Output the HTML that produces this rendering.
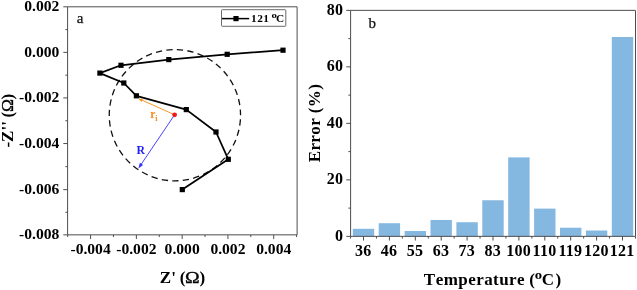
<!DOCTYPE html>
<html lang="en"><head><meta charset="utf-8"><title>Figure</title>
<style>
html,body{margin:0;padding:0;background:#fff;}
svg{display:block;}
text{font-family:"Liberation Serif","DejaVu Serif",serif;}
.b{font-weight:bold;}
.tk{font-weight:bold;font-size:15.6px;fill:#000;}
.tk2{font-weight:bold;font-size:16px;fill:#000;letter-spacing:0.25px;}
.tt{font-weight:bold;font-size:17px;fill:#000;}
</style></head>
<body>
<svg width="637" height="290" viewBox="0 0 637 290">
<rect width="637" height="290" fill="#fff"/>
<g id="panel-a">
<path d="M67.6 6.8H297.1V234.85" fill="none" stroke="#4d4d4d" stroke-width="1"/>
<path d="M67.6 6.8V234.85H297.1" fill="none" stroke="#4d4d4d" stroke-width="1"/>
<path d="M67.6 6.80h-4.3M67.6 29.58h-2.2M67.6 52.36h-4.3M67.6 75.15h-2.2M67.6 97.93h-4.3M67.6 120.74h-2.2M67.6 143.55h-4.3M67.6 166.60h-2.2M67.6 189.65h-4.3M67.6 212.25h-2.2M67.6 234.85h-4.3M90.59 234.85v4.2M136.37 234.85v4.2M182.15 234.85v4.2M227.93 234.85v4.2M273.71 234.85v4.2M67.70 234.85v2.2M113.48 234.85v2.2M159.26 234.85v2.2M205.04 234.85v2.2M250.82 234.85v2.2M296.60 234.85v2.2" fill="none" stroke="#4d4d4d" stroke-width="1"/>
<text class="tk" x="59.4" y="11.20" text-anchor="end">0.002</text>
<text class="tk" x="59.4" y="56.76" text-anchor="end">0.000</text>
<text class="tk" x="59.4" y="102.33" text-anchor="end">-0.002</text>
<text class="tk" x="59.4" y="147.95" text-anchor="end">-0.004</text>
<text class="tk" x="59.4" y="194.05" text-anchor="end">-0.006</text>
<text class="tk" x="59.4" y="239.25" text-anchor="end">-0.008</text>
<text class="tk" x="90.59" y="254.1" text-anchor="middle">-0.004</text>
<text class="tk" x="136.37" y="254.1" text-anchor="middle">-0.002</text>
<text class="tk" x="182.15" y="254.1" text-anchor="middle">0.000</text>
<text class="tk" x="227.93" y="254.1" text-anchor="middle">0.002</text>
<text class="tk" x="273.71" y="254.1" text-anchor="middle">0.004</text>
<text class="tt" x="159.8" y="282.8">Z' <tspan x="179.85">(</tspan><tspan x="184.9" style="font-weight:normal" stroke="#000" stroke-width="0.35" textLength="14.66" lengthAdjust="spacingAndGlyphs">Ω</tspan><tspan x="199.45">)</tspan></text>
<text class="tt" transform="translate(13.1 0) rotate(-90)" x="-147.6" y="0">-Z'' <tspan x="-117.4">(</tspan><tspan x="-111.9" style="font-weight:normal" stroke="#000" stroke-width="0.35" textLength="13.02" lengthAdjust="spacingAndGlyphs">Ω</tspan><tspan x="-99.6">)</tspan></text>
<text x="76.8" y="23.4" font-size="15" fill="#111" stroke="#111" stroke-width="0.25">a</text>
<circle cx="174.9" cy="115.2" r="65.65" fill="none" stroke="#111" stroke-width="1.3" stroke-dasharray="6.3 4.276" stroke-dashoffset="6.45"/>
<polyline points="283.0,50.2 227.2,54.3 168.8,59.6 121,65.3 99.9,73.1 123.8,83 136.4,95.8 186.3,109.6 216,132 228.3,159.3 182.3,189.6" fill="none" stroke="#000" stroke-width="1.75" stroke-linejoin="round"/>
<rect x="280.4" y="47.6" width="5.2" height="5.2" fill="#000"/>
<rect x="224.6" y="51.7" width="5.2" height="5.2" fill="#000"/>
<rect x="166.2" y="57.0" width="5.2" height="5.2" fill="#000"/>
<rect x="118.4" y="62.7" width="5.2" height="5.2" fill="#000"/>
<rect x="97.3" y="70.5" width="5.2" height="5.2" fill="#000"/>
<rect x="121.2" y="80.4" width="5.2" height="5.2" fill="#000"/>
<rect x="133.8" y="93.2" width="5.2" height="5.2" fill="#000"/>
<rect x="183.7" y="107.0" width="5.2" height="5.2" fill="#000"/>
<rect x="213.4" y="129.4" width="5.2" height="5.2" fill="#000"/>
<rect x="225.7" y="156.7" width="5.2" height="5.2" fill="#000"/>
<rect x="179.7" y="187.0" width="5.2" height="5.2" fill="#000"/>
<line x1="174.6" y1="114.8" x2="139.5" y2="99.0" stroke="#f8962a" stroke-width="1"/>
<path d="M138.4 98.5l4.6 0.4l-1.6 3.2z" fill="#f8901e"/>
<line x1="174.6" y1="114.8" x2="140.5" y2="165.3" stroke="#4646ff" stroke-width="1"/>
<path d="M138.4 168.4L143.05 164.91L139.91 162.79z" fill="#3030ff"/>
<circle cx="174.6" cy="114.8" r="2.4" fill="#f01818"/>
<text class="b" x="150.3" y="117.9" font-size="11.6" fill="#f48c1c">r<tspan font-size="8" dy="2.6" dx="-0.3">i</tspan></text>
<text class="b" x="136.4" y="153.9" font-size="11.8" fill="#2222f2">R</text>
<rect x="221.5" y="9.7" width="64.3" height="16.6" rx="0.8" fill="#fff" stroke="#5a5a5a" stroke-width="0.9"/>
<line x1="222.0" y1="18.6" x2="249.2" y2="18.6" stroke="#000" stroke-width="1.5"/>
<rect x="233.4" y="16.0" width="5.2" height="5.2" fill="#000"/>
<text class="b" x="251.1" y="22" font-size="11.3" letter-spacing="0.4" fill="#000">121 <tspan x="271.4" y="17.7" font-size="8" letter-spacing="0" textLength="5.4" lengthAdjust="spacingAndGlyphs">o</tspan><tspan x="276.0" y="22">C</tspan></text>
</g>
<g id="panel-b">
<rect x="352.80" y="228.81" width="21.4" height="7.54" fill="#85b8e0"/>
<rect x="378.70" y="223.21" width="21.4" height="13.14" fill="#85b8e0"/>
<rect x="404.60" y="231.01" width="21.4" height="5.34" fill="#85b8e0"/>
<rect x="430.50" y="219.97" width="21.4" height="16.38" fill="#85b8e0"/>
<rect x="456.40" y="222.23" width="21.4" height="14.12" fill="#85b8e0"/>
<rect x="482.30" y="200.25" width="21.4" height="36.10" fill="#85b8e0"/>
<rect x="508.20" y="157.39" width="21.4" height="78.96" fill="#85b8e0"/>
<rect x="534.10" y="208.61" width="21.4" height="27.74" fill="#85b8e0"/>
<rect x="560.00" y="227.71" width="21.4" height="8.64" fill="#85b8e0"/>
<rect x="585.90" y="230.50" width="21.4" height="5.85" fill="#85b8e0"/>
<rect x="611.80" y="37.00" width="21.4" height="199.35" fill="#85b8e0"/>
<path d="M350.6 10.36H635.5V236.35" fill="none" stroke="#4d4d4d" stroke-width="1"/>
<path d="M350.6 10.36V236.35H635.5" fill="none" stroke="#4d4d4d" stroke-width="1"/>
<path d="M350.6 236.35h-4.3M350.6 208.10h-2.2M350.6 179.85h-4.3M350.6 151.60h-2.2M350.6 123.35h-4.3M350.6 95.11h-2.2M350.6 66.86h-4.3M350.6 38.61h-2.2M350.6 10.36h-4.3M363.50 236.35v4.2M350.55 236.35v2.2M389.40 236.35v4.2M376.45 236.35v2.2M415.30 236.35v4.2M402.35 236.35v2.2M441.20 236.35v4.2M428.25 236.35v2.2M467.10 236.35v4.2M454.15 236.35v2.2M493.00 236.35v4.2M480.05 236.35v2.2M518.90 236.35v4.2M505.95 236.35v2.2M544.80 236.35v4.2M531.85 236.35v2.2M570.70 236.35v4.2M557.75 236.35v2.2M596.60 236.35v4.2M583.65 236.35v2.2M622.50 236.35v4.2M609.55 236.35v2.2M635.5 236.35v2.2" fill="none" stroke="#4d4d4d" stroke-width="1"/>
<text class="tk2" x="343.2" y="240.85" text-anchor="end">0</text>
<text class="tk2" x="343.2" y="184.35" text-anchor="end">20</text>
<text class="tk2" x="343.2" y="127.85" text-anchor="end">40</text>
<text class="tk2" x="343.2" y="71.36" text-anchor="end">60</text>
<text class="tk2" x="343.2" y="14.86" text-anchor="end">80</text>
<text class="tk2" x="363.20" y="256.1" text-anchor="middle">36</text>
<text class="tk2" x="389.10" y="256.1" text-anchor="middle">46</text>
<text class="tk2" x="415.00" y="256.1" text-anchor="middle">55</text>
<text class="tk2" x="440.90" y="256.1" text-anchor="middle">63</text>
<text class="tk2" x="466.80" y="256.1" text-anchor="middle">73</text>
<text class="tk2" x="492.70" y="256.1" text-anchor="middle">83</text>
<text class="tk2" x="518.60" y="256.1" text-anchor="middle">100</text>
<text class="tk2" x="544.50" y="256.1" text-anchor="middle">110</text>
<text class="tk2" x="570.40" y="256.1" text-anchor="middle">119</text>
<text class="tk2" x="596.30" y="256.1" text-anchor="middle">120</text>
<text class="tk2" x="622.20" y="256.1" text-anchor="middle">121</text>
<text class="tt" x="423.85" y="284.9" letter-spacing="0.45" style="font-kerning:none">Temperature <tspan x="529.25">(</tspan><tspan x="534.8" y="278.6" font-size="12.5" letter-spacing="0" textLength="7.375" lengthAdjust="spacingAndGlyphs">o</tspan><tspan x="541.77" y="284.9">C</tspan><tspan x="555.4">)</tspan></text>
<text class="tt" transform="translate(319.5 123.0) rotate(-90)" text-anchor="middle" letter-spacing="0.4" style="font-kerning:none">Error (%)</text>
<text x="368.5" y="27.7" font-size="15" fill="#111" stroke="#111" stroke-width="0.25">b</text>
</g>
</svg>
</body></html>
